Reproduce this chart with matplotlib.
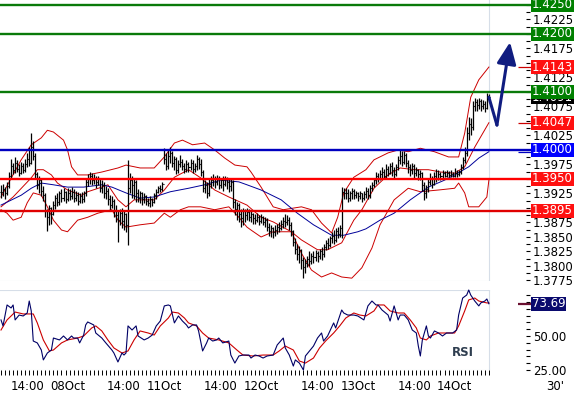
import numpy as np
import matplotlib
matplotlib.use("Agg")
import matplotlib.pyplot as plt
from matplotlib import transforms
from matplotlib.ticker import MultipleLocator

plt.rcParams["font.family"] = ["DejaVu Sans"]

# ────────────────────────────────────────────────────────────────
# Data: EUR/USD 30' bars, 07 Oct 07:30 -> 14 Oct 08:30 (pips, 3928 = 1.3928)
# ────────────────────────────────────────────────────────────────
close_pips = [
    3928, 3932, 3925, 3938, 3955, 3972, 3965, 3978, 3968, 3960,
    3972, 3966, 3975, 3985, 3978, 4005, 3990, 3958, 3940, 3948,
    3930, 3922, 3895, 3885, 3900, 3890, 3905, 3918, 3910, 3925,
    3918, 3928, 3915, 3925, 3920, 3928, 3918, 3922, 3912, 3920,
    3915, 3925, 3945, 3950, 3955, 3948, 3952, 3945, 3950, 3935,
    3940, 3925, 3930, 3915, 3905, 3912, 3895, 3888, 3880, 3892,
    3878, 3890, 3870, 3935, 3948, 3940, 3945, 3925, 3918, 3925,
    3915, 3920, 3912, 3908, 3915, 3910, 3922, 3928, 3935, 3932,
    3942, 3985, 3972, 3990, 3995, 3978, 3985, 3965, 3975, 3980,
    3972, 3968, 3975, 3970, 3978, 3968, 3972, 3985, 3975, 3962,
    3935, 3940, 3925, 3942, 3948, 3950, 3945, 3952, 3940, 3948,
    3942, 3950, 3945, 3938, 3945, 3910, 3898, 3905, 3890, 3882,
    3895, 3888, 3893, 3885, 3890, 3882, 3880, 3885, 3878, 3884,
    3876, 3880, 3868, 3860, 3865, 3858, 3862, 3868, 3865, 3872,
    3878, 3875, 3880, 3870, 3860, 3842, 3830, 3820, 3828, 3810,
    3798, 3805, 3812, 3808, 3818, 3815, 3822, 3818, 3825, 3820,
    3832, 3840, 3836, 3848, 3852, 3845, 3860, 3855, 3865, 3928,
    3926, 3925, 3918, 3925, 3930, 3922, 3926, 3920, 3925, 3918,
    3924, 3930, 3922, 3935, 3940, 3948, 3955, 3950, 3958, 3962,
    3955, 3968, 3960, 3972, 3965, 3958, 3970, 3982, 3990, 3980,
    3992, 3978, 3970, 3965, 3972, 3960, 3965, 3958, 3960, 3940,
    3925, 3932, 3945, 3950, 3942, 3955, 3950, 3958, 3955, 3960,
    3956, 3960, 3957, 3959, 3956, 3960, 3958, 3962, 3970, 3982,
    3995, 4030, 4045, 4040, 4075, 4082, 4078, 4085, 4075, 4080,
    4072, 4088, 4091,
]
high_pips = [
    3940, 3942, 3936, 3945, 3962, 3985, 3978, 3988, 3982, 3975,
    3980, 3978, 3985, 3995, 4005, 4029, 4015, 3995, 3962, 3955,
    3950, 3938, 3925, 3898, 3905, 3902, 3912, 3922, 3925, 3930,
    3932, 3935, 3930, 3935, 3932, 3936, 3932, 3930, 3928, 3926,
    3928, 3930, 3950, 3958, 3962, 3960, 3958, 3955, 3956, 3952,
    3948, 3945, 3938, 3935, 3922, 3920, 3915, 3905, 3895, 3898,
    3900, 3895, 3892, 3983, 3960, 3955, 3952, 3948, 3932, 3930,
    3928, 3925, 3922, 3918, 3920, 3918, 3926, 3932, 3938, 3940,
    3945, 4003, 3995, 4000, 4005, 3998, 3990, 3988, 3982, 3992,
    3985, 3978, 3982, 3980, 3985, 3982, 3978, 3992, 3988, 3985,
    3965, 3948, 3945, 3950, 3955, 3958, 3956, 3957, 3955, 3952,
    3955, 3956, 3954, 3950, 3950, 3948, 3915, 3910, 3908, 3898,
    3900, 3898, 3900, 3898, 3895, 3892, 3890, 3891, 3888, 3890,
    3887, 3885, 3882, 3874, 3870, 3868, 3870, 3872, 3876, 3880,
    3885, 3890, 3888, 3885, 3875, 3862, 3848, 3838, 3835, 3830,
    3815, 3812, 3818, 3825, 3822, 3826, 3828, 3825, 3830, 3832,
    3838, 3845, 3848, 3852, 3858, 3862, 3866, 3868, 3870, 3936,
    3935, 3935, 3932, 3930, 3934, 3932, 3930, 3928, 3930, 3926,
    3930, 3936, 3934, 3940, 3945, 3952, 3962, 3960, 3965, 3970,
    3968, 3975, 3972, 3978, 3980, 3970, 3975, 3990, 4000, 3998,
    3998, 3995, 3982, 3975, 3978, 3975, 3970, 3968, 3965, 3962,
    3945, 3940, 3950, 3960, 3955, 3962, 3968, 3965, 3962, 3965,
    3964, 3966, 3964, 3965, 3962, 3969, 3965, 3966, 3975, 3988,
    4005, 4040, 4057, 4055, 4085, 4090, 4088, 4090, 4088, 4086,
    4085, 4098, 4096,
]
low_pips = [
    3918, 3920, 3915, 3922, 3935, 3950, 3958, 3960, 3962, 3955,
    3958, 3960, 3962, 3970, 3972, 3975, 3982, 3950, 3932, 3925,
    3920, 3912, 3885, 3860, 3870, 3872, 3888, 3898, 3903, 3905,
    3910, 3912, 3908, 3912, 3913, 3915, 3910, 3912, 3905, 3908,
    3908, 3910, 3920, 3938, 3942, 3940, 3942, 3935, 3940, 3928,
    3925, 3918, 3915, 3905, 3895, 3900, 3885, 3875, 3841, 3870,
    3865, 3862, 3858, 3836, 3925, 3918, 3915, 3910, 3910, 3908,
    3905, 3908, 3905, 3903, 3902, 3903, 3908, 3915, 3925, 3928,
    3930, 3975, 3965, 3968, 3978, 3970, 3965, 3958, 3960, 3970,
    3965, 3960, 3962, 3962, 3965, 3960, 3962, 3965, 3968, 3955,
    3928, 3925, 3918, 3920, 3935, 3938, 3935, 3940, 3932, 3935,
    3930, 3938, 3932, 3928, 3930, 3900, 3888, 3880, 3875, 3868,
    3870, 3875, 3880, 3878, 3875, 3873, 3872, 3875, 3871, 3874,
    3870, 3868, 3860, 3852, 3850, 3848, 3852, 3855, 3858, 3862,
    3866, 3868, 3870, 3862, 3852, 3835, 3820, 3810, 3805, 3795,
    3779, 3788, 3798, 3800, 3803, 3805, 3808, 3806, 3812, 3810,
    3815, 3828, 3830, 3832, 3840, 3838, 3842, 3848, 3850, 3848,
    3915, 3915, 3910, 3912, 3915, 3915, 3918, 3912, 3915, 3910,
    3914, 3918, 3915, 3918, 3930, 3936, 3942, 3945, 3948, 3952,
    3950, 3952, 3955, 3958, 3955, 3950, 3955, 3965, 3975, 3972,
    3975, 3970, 3960, 3955, 3958, 3950, 3955, 3948, 3948, 3930,
    3914, 3918, 3928, 3940, 3935, 3940, 3945, 3948, 3948, 3952,
    3953, 3954, 3953, 3954, 3953, 3954, 3953, 3955, 3958, 3968,
    3978, 3990, 4018, 4025, 4035, 4068, 4068, 4070, 4068, 4070,
    4066, 4070, 4082,
]

# Bollinger bands (20) and long moving average, read at bar positions
upper_bars = [0, 10, 15, 20, 23, 26, 31, 33, 35, 38, 43, 50, 58, 62, 69, 76, 81, 86,
              90, 95, 101, 106, 111, 116, 122, 124, 129, 135, 140, 149, 154, 159, 164,
              167, 170, 175, 181, 185, 192, 197, 202, 208, 215, 222, 227, 230, 233, 237, 242]
upper_vals = [1.3919, 1.3983, 1.4009, 1.4021, 1.4034, 1.4031, 1.4017, 1.4000, 1.3971,
              1.3957, 1.3957, 1.3962, 1.3969, 1.3974, 1.3969, 1.3969, 1.3988, 1.4012,
              1.4017, 1.4009, 1.4012, 1.4000, 1.3986, 1.3974, 1.3971, 1.3962, 1.3936,
              1.3902, 1.3897, 1.3902, 1.3897, 1.3874, 1.3857, 1.3884, 1.3926, 1.3953,
              1.3966, 1.3983, 1.3995, 1.4000, 1.3997, 1.4003, 1.3997, 1.3988, 1.3988,
              1.4029, 1.4091, 1.4121, 1.4143]
mid_bars = [0, 6, 15, 18, 21, 25, 28, 33, 40, 43, 50, 53, 58, 62, 66, 76, 81, 86, 93,
            99, 106, 113, 122, 129, 135, 144, 149, 157, 162, 169, 175, 179, 185, 192,
            198, 205, 212, 218, 225, 230, 235, 242]
mid_vals = [1.3902, 1.3919, 1.3952, 1.3966, 1.3966, 1.3957, 1.3943, 1.3931, 1.3922,
            1.3928, 1.3936, 1.3940, 1.3914, 1.3902, 1.3914, 1.3914, 1.3931, 1.3953,
            1.3966, 1.3952, 1.3931, 1.3919, 1.3905, 1.3884, 1.3876, 1.3859, 1.3845,
            1.3828, 1.3828, 1.3840, 1.3879, 1.3897, 1.3934, 1.3957, 1.3969, 1.3966,
            1.3966, 1.3962, 1.3960, 1.3971, 1.4005, 1.4047]
lower_bars = [0, 3, 6, 10, 13, 16, 20, 23, 26, 30, 33, 38, 43, 48, 55, 58, 62, 69, 76,
              81, 84, 89, 93, 99, 106, 113, 118, 122, 124, 129, 135, 144, 149, 154, 159,
              164, 169, 174, 179, 184, 188, 195, 202, 208, 217, 225, 227, 230, 232, 237,
              241, 242]
lower_vals = [1.3897, 1.3891, 1.3879, 1.3884, 1.3909, 1.3926, 1.3922, 1.3902, 1.3879,
              1.3862, 1.3859, 1.3879, 1.3884, 1.3891, 1.3897, 1.3879, 1.3867, 1.3871,
              1.3874, 1.3891, 1.3884, 1.3897, 1.3902, 1.3902, 1.3897, 1.3902, 1.3884,
              1.3867, 1.3862, 1.3850, 1.3859, 1.3859, 1.3822, 1.3793, 1.3781, 1.3788,
              1.3781, 1.3779, 1.3797, 1.3831, 1.3871, 1.3914, 1.3934, 1.3928, 1.3931,
              1.3934, 1.3943, 1.3926, 1.3902, 1.3902, 1.3919, 1.3948]
ma_bars = [0, 10, 15, 20, 26, 33, 41, 50, 55, 62, 69, 76, 84, 93, 101, 109, 118, 122,
           129, 139, 147, 155, 164, 170, 177, 181, 188, 195, 203, 212, 220, 225, 232,
           237, 242]
ma_vals = [1.3905, 1.3922, 1.3934, 1.3943, 1.3940, 1.3936, 1.3936, 1.3940, 1.3936,
           1.3926, 1.3917, 1.3919, 1.3928, 1.3934, 1.3940, 1.3948, 1.3945, 1.3940,
           1.3931, 1.3914, 1.3891, 1.3871, 1.3853, 1.3853, 1.3859, 1.3864, 1.3879,
           1.3891, 1.3914, 1.3936, 1.3948, 1.3957, 1.3971, 1.3986, 1.3997]

# RSI and its signal line
rsi_bars = [0, 1, 3, 5, 6, 7, 9, 11, 13, 14,
            15, 16, 18, 20, 21, 23, 25, 26, 29, 31,
            33, 35, 36, 38, 39, 41, 42, 43, 46, 47,
            50, 52, 55, 56, 58, 60, 61, 62, 63, 65,
            67, 68, 71, 73, 75, 77, 79, 81, 83, 84,
            86, 88, 90, 92, 93, 95, 97, 98, 100, 102,
            103, 105, 107, 108, 110, 113, 114, 116, 118, 120,
            123, 124, 126, 128, 130, 132, 135, 137, 140, 141,
            143, 145, 146, 148, 150, 151, 153, 155, 157, 159,
            160, 162, 165, 166, 169, 170, 172, 175, 177, 180,
            182, 184, 186, 187, 189, 192, 193, 195, 197, 198,
            200, 202, 204, 206, 207, 208, 209, 211, 212, 213,
            215, 217, 219, 221, 224, 226, 227, 229, 231, 232,
            233, 235, 237, 238, 240, 241, 242]
rsi_vals = [61.8, 57.4, 72.8, 70.6, 72.8, 61.8, 65.4, 64.7, 66.9, 75.7,
            68.4, 46.3, 44.9, 39.7, 32.4, 37.5, 39.7, 48.5, 47.1, 50.0,
            47.1, 50.0, 48.5, 48.5, 44.9, 50.7, 58.1, 60.3, 58.1, 52.2,
            48.5, 44.9, 39.7, 37.5, 30.9, 37.5, 36.0, 37.5, 57.4, 54.4,
            57.4, 50.0, 47.1, 48.5, 50.7, 57.4, 61.0, 72.1, 72.8, 72.1,
            59.6, 64.7, 61.0, 58.1, 55.9, 58.1, 58.1, 53.7, 39.0, 44.9,
            48.5, 46.3, 47.1, 48.5, 44.9, 46.3, 36.0, 30.1, 35.3, 36.0,
            36.0, 33.8, 36.0, 35.3, 33.8, 35.3, 36.0, 43.4, 48.5, 41.2,
            36.0, 27.9, 32.4, 30.1, 25.0, 35.3, 39.0, 42.6, 48.5, 52.2,
            46.3, 50.0, 59.6, 55.9, 69.1, 66.9, 65.4, 65.4, 64.7, 61.8,
            72.1, 75.7, 72.8, 72.8, 69.1, 65.4, 61.0, 72.1, 61.8, 65.4,
            65.4, 61.8, 54.4, 52.2, 42.6, 35.3, 47.1, 57.4, 50.0, 48.5,
            53.7, 52.2, 50.0, 52.2, 52.2, 54.4, 65.4, 77.9, 80.1, 83.8,
            80.1, 75.7, 72.1, 74.3, 75.7, 77.2, 73.7]
sig_bars = [0, 3, 7, 11, 16, 18, 21, 24, 26, 30, 33, 38, 41, 45, 47, 50, 53, 56, 60,
            63, 66, 69, 73, 76, 79, 83, 85, 88, 91, 93, 97, 100, 103, 108, 113, 117,
            120, 125, 130, 135, 138, 141, 145, 148, 151, 155, 158, 161, 165, 168, 171,
            175, 178, 181, 185, 187, 190, 193, 197, 200, 203, 206, 208, 211, 213, 217,
            222, 225, 227, 230, 232, 235, 237, 241, 242]
sig_vals = [54.4, 61.8, 67.6, 66.2, 66.2, 59.6, 47.1, 39.0, 39.7, 44.9,
            47.1, 48.5, 50.0, 55.9, 57.4, 53.7, 47.1, 41.2, 37.5, 39.0,
            47.1, 53.7, 52.2, 50.7, 57.4, 63.2, 67.6, 66.9, 63.2, 59.6,
            57.4, 52.2, 48.5, 47.1, 44.9, 39.7, 36.0, 35.3, 36.0, 36.0,
            39.0, 42.6, 39.7, 31.6, 30.1, 33.8, 41.2, 46.3, 52.2, 57.4,
            63.2, 66.9, 65.4, 64.7, 68.4, 72.8, 72.8, 68.4, 66.9, 66.9,
            61.8, 55.9, 48.5, 47.1, 50.0, 52.2, 52.2, 52.2, 57.4, 68.4,
            76.5, 77.9, 75.7, 74.3, 74.3]
rsi_last = 73.69

# support / resistance levels
level_vals = [1.4250, 1.4200, 1.4100, 1.4000, 1.3950, 1.3895]
level_cols = ["#0a7a0a", "#0a7a0a", "#0a7a0a", "#0000c0", "#ff0000", "#e00000"]
tag_bg = ["#008000", "#008000", "#008000", "#0000ff", "#ff1010", "#ff1010"]

# forecast arrow (bar position, price)
arrow_bars = [242, 246, 252.5]
arrow_prices = [1.4091, 1.4043, 1.4186]

# time axis
date_bars = [13, 33, 61, 81, 109, 129, 157, 177, 205, 225]
date_labels = ["14:00", "08Oct", "14:00", "11Oct", "14:00", "12Oct",
               "14:00", "13Oct", "14:00", "14Oct"]

# ────────────────────────────────────────────────────────────────
# Layout
# ────────────────────────────────────────────────────────────────
W, H = 574, 395
PX = 2.016          # pixels per bar
AXR = 526           # right edge of plot area (px)
LAST = len(close_pips) - 1
XLIM = (-0.5, AXR / PX - 0.5)
LIGHT = "#d6dee8"
FS = 8.5

fig = plt.figure(figsize=(W / 100, H / 100), dpi=100)
ax = fig.add_axes([0, (H - 281) / H, AXR / W, 281 / H])
rs = fig.add_axes([0, (H - 370) / H, AXR / W, 80 / H])

for a in (ax, rs):
    for s in a.spines.values():
        s.set_visible(False)
    a.set_xlim(*XLIM)
    a.axvline(LAST, color=LIGHT, lw=0.8, zorder=0)

last_frac = (LAST - XLIM[0]) / (XLIM[1] - XLIM[0])
box_x = 532 / W
tag_tr = transforms.blended_transform_factory(fig.transFigure, ax.transData)
rs_tr = transforms.blended_transform_factory(fig.transFigure, rs.transData)
px2bar = lambda p: p / PX - 0.5


def tag(axis, tr, y, text, bg, z=8, fg="white"):
    axis.text(box_x, y, text, transform=tr, ha="left", va="center", fontsize=FS,
              color=fg, zorder=z, clip_on=False,
              bbox=dict(boxstyle="square,pad=0.06", fc=bg, ec="none"))


# ── price panel ────────────────────────────────────────────────
idx = np.arange(len(close_pips))
closes = 1 + np.array(close_pips) / 1e4
highs = 1 + np.array(high_pips) / 1e4
lows = 1 + np.array(low_pips) / 1e4
opens = np.r_[closes[0], closes[:-1]]

ax.set_ylim(1.37741, 1.425862)
ax.axhline(ax.get_ylim()[0] + 0.00002, xmax=last_frac, color=LIGHT, lw=0.8, zorder=0)

ax.plot(upper_bars, upper_vals, color="#cc0000", lw=0.7, zorder=2)
ax.plot(mid_bars, mid_vals, color="#cc0000", lw=0.7, zorder=2)
ax.plot(lower_bars, lower_vals, color="#cc0000", lw=0.7, zorder=2)
ax.plot(ma_bars, ma_vals, color="#000099", lw=0.7, zorder=2)

ax.vlines(idx, lows, highs, color="black", lw=0.9, zorder=3)
ax.hlines(opens, idx - 0.5, idx, color="black", lw=0.8, zorder=3)
ax.hlines(closes, idx, idx + 0.5, color="black", lw=0.8, zorder=3)

x_line_end = px2bar(531)
for v, c in zip(level_vals, level_cols):
    ax.hlines(v, XLIM[0], x_line_end, color=c, lw=1.7, zorder=4, clip_on=False)

# last-value markers for the indicators
for v, c in [(upper_vals[-1], "#cc0000"), (mid_vals[-1], "#cc0000"),
             (ma_vals[-1], "#0000c0")]:
    ax.hlines(v, px2bar(518), x_line_end, color=c, lw=0.9, zorder=4, clip_on=False)

# forecast arrow
ax.plot(arrow_bars[:2], arrow_prices[:2], color="#101c80", lw=2.2, zorder=6,
        clip_on=False, solid_capstyle="round")
ax.annotate("", xy=(arrow_bars[2], arrow_prices[2]),
            xytext=(arrow_bars[1], arrow_prices[1]),
            arrowprops=dict(arrowstyle="-|>,head_length=0.95,head_width=0.42",
                            color="#101c80", lw=2.2, mutation_scale=14,
                            shrinkA=0, shrinkB=0),
            zorder=6, annotation_clip=False)

# right price scale
major = [round(1.3775 + 0.0025 * k, 4) for k in range(20)]
covered = {1.4250, 1.4200, 1.4150, 1.4100, 1.4050, 1.4000, 1.3950, 1.3900}
ax.yaxis.tick_right()
ax.set_yticks(major, ["" if m in covered else f"{m:.4f}" for m in major])
ax.yaxis.set_minor_locator(MultipleLocator(0.00125))
ax.tick_params(axis="y", which="both", direction="out", length=3, width=0.8,
               pad=2, labelsize=FS)
ax.tick_params(axis="x", which="both", bottom=False, labelbottom=False)

tag(ax, tag_tr, upper_vals[-1], f"{upper_vals[-1]:.4f}", "#ff1010")
tag(ax, tag_tr, mid_vals[-1], f"{mid_vals[-1]:.4f}", "#ff1010")
tag(ax, tag_tr, closes[-1], f"{closes[-1]:.4f}", "black", z=7)
for v, bg in zip(level_vals, tag_bg):
    tag(ax, tag_tr, v, f"{v:.4f}", bg, z=9)

# ── RSI panel ──────────────────────────────────────────────────
rs.set_ylim(25, 83.8)
rs.axhline(25, xmax=last_frac, color=LIGHT, lw=0.8, zorder=0)
rs.axhline(83.8, xmax=last_frac, color=LIGHT, lw=0.8, zorder=0)
rs.plot(sig_bars, sig_vals, color="#cc0000", lw=0.8, zorder=2, clip_on=False)
rs.plot(rsi_bars, rsi_vals, color="#000066", lw=0.8, zorder=3, clip_on=False)
rs.text(px2bar(463), 38.2, "RSI", ha="center", va="center", fontsize=8.5,
        fontweight="bold", color="#2e3d4f")

rs.yaxis.tick_right()
rs.set_yticks([25, 50], ["25.00", "50.00"])
rs.yaxis.set_minor_locator(MultipleLocator(5))
rs.tick_params(axis="y", which="both", direction="out", length=3, width=0.8,
               pad=2, labelsize=FS)
rs.hlines(rsi_last, px2bar(518), px2bar(531), color="#6a1030", lw=1.6,
          clip_on=False, zorder=4)
tag(rs, rs_tr, rsi_last, f"{rsi_last:.2f}", "#0a0a6e")

rs.set_xticks(date_bars, date_labels)
rs.set_xticks(np.arange(0, LAST + 1, 2), minor=True)
rs.tick_params(axis="x", which="major", length=0, pad=7.5, labelsize=FS)
rs.tick_params(axis="x", which="minor", direction="out", length=3.5, width=0.7)
fig.text(555 / W, 1 - 387 / H, "30'", ha="center", va="center", fontsize=FS)

fig.savefig("out.png", dpi=100, facecolor="white")
